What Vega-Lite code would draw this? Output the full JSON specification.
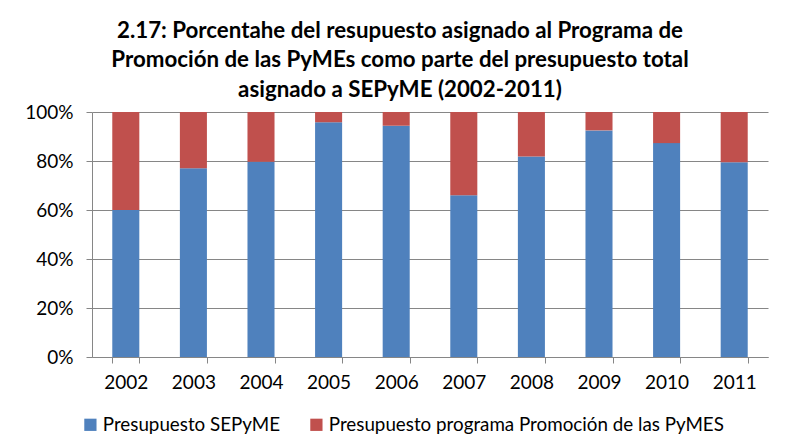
{
  "$schema": "https://vega.github.io/schema/vega-lite/v6.json",
  "width": 676,
  "height": 245,
  "autosize": {"type": "none"},
  "padding": {"left": 92, "top": 112, "right": 22, "bottom": 85},
  "background": "white",
  "title": {
    "text": ["2.17: Porcentahe del resupuesto asignado al Programa de", "Promoción de las PyMEs como parte del presupuesto total", "asignado a SEPyME (2002-2011)"],
    "font": "Lato",
    "fontSize": 22.3,
    "fontWeight": "bold",
    "color": "black",
    "anchor": "middle",
    "frame": "group",
    "dx": -30,
    "offset": 2,
    "lineHeight": 29.5
  },
  "data": {
    "values": [
      {"year": "2002", "serie": "Presupuesto SEPyME", "value": 0.60},
      {"year": "2002", "serie": "Presupuesto programa Promoción de las PyMES", "value": 0.40},
      {"year": "2003", "serie": "Presupuesto SEPyME", "value": 0.77},
      {"year": "2003", "serie": "Presupuesto programa Promoción de las PyMES", "value": 0.23},
      {"year": "2004", "serie": "Presupuesto SEPyME", "value": 0.797},
      {"year": "2004", "serie": "Presupuesto programa Promoción de las PyMES", "value": 0.203},
      {"year": "2005", "serie": "Presupuesto SEPyME", "value": 0.958},
      {"year": "2005", "serie": "Presupuesto programa Promoción de las PyMES", "value": 0.042},
      {"year": "2006", "serie": "Presupuesto SEPyME", "value": 0.944},
      {"year": "2006", "serie": "Presupuesto programa Promoción de las PyMES", "value": 0.056},
      {"year": "2007", "serie": "Presupuesto SEPyME", "value": 0.66},
      {"year": "2007", "serie": "Presupuesto programa Promoción de las PyMES", "value": 0.34},
      {"year": "2008", "serie": "Presupuesto SEPyME", "value": 0.818},
      {"year": "2008", "serie": "Presupuesto programa Promoción de las PyMES", "value": 0.182},
      {"year": "2009", "serie": "Presupuesto SEPyME", "value": 0.925},
      {"year": "2009", "serie": "Presupuesto programa Promoción de las PyMES", "value": 0.075},
      {"year": "2010", "serie": "Presupuesto SEPyME", "value": 0.873},
      {"year": "2010", "serie": "Presupuesto programa Promoción de las PyMES", "value": 0.127},
      {"year": "2011", "serie": "Presupuesto SEPyME", "value": 0.795},
      {"year": "2011", "serie": "Presupuesto programa Promoción de las PyMES", "value": 0.205}
    ]
  },
  "mark": {"type": "bar"},
  "encoding": {
    "x": {
      "field": "year",
      "type": "nominal",
      "scale": {"paddingInner": 0.6, "paddingOuter": 0.3},
      "axis": {
        "title": null,
        "labelAngle": 0,
        "labelFont": "Lato",
        "labelFontSize": 19,
        "labelColor": "black",
        "labelPadding": 10,
        "domainColor": "#868686",
        "tickColor": "#868686",
        "tickSize": 6,
        "tickBand": "extent",
        "grid": false
      }
    },
    "y": {
      "field": "value",
      "type": "quantitative",
      "stack": "zero",
      "scale": {"domain": [0, 1], "nice": false},
      "axis": {
        "title": null,
        "values": [0, 0.2, 0.4, 0.6, 0.8, 1],
        "format": "0%",
        "labelFont": "Lato",
        "labelFontSize": 19,
        "labelColor": "black",
        "labelPadding": 13,
        "domainColor": "#868686",
        "tickColor": "#868686",
        "tickSize": 6,
        "gridColor": "#868686",
        "gridWidth": 1
      }
    },
    "color": {
      "field": "serie",
      "type": "nominal",
      "scale": {
        "domain": ["Presupuesto SEPyME", "Presupuesto programa Promoción de las PyMES"],
        "range": ["#4F81BD", "#C0504D"]
      },
      "legend": {
        "title": null,
        "orient": "none",
        "direction": "horizontal",
        "legendX": -11,
        "legendY": 303,
        "symbolType": "square",
        "symbolSize": 150,
        "symbolStrokeWidth": 0,
        "labelFont": "Lato",
        "labelFontSize": 18.8,
        "labelColor": "black",
        "labelLimit": 600,
        "labelOffset": 3,
        "columnPadding": 26
      }
    },
    "order": {"field": "serie", "sort": "ascending"}
  },
  "config": {"view": {"stroke": null}}
}
